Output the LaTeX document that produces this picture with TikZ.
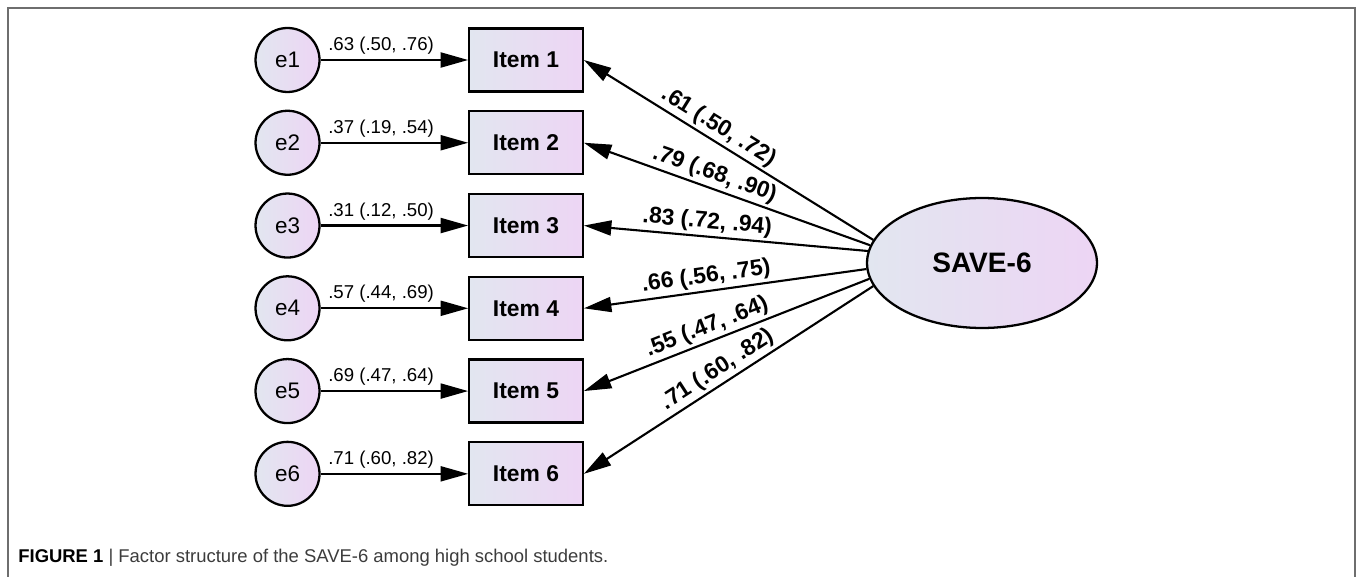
\documentclass[tikz,border=0pt]{standalone}
\usepackage{fontspec}
\setmainfont{Liberation Sans}
\usetikzlibrary{positioning,shapes.geometric,arrows.meta}
\definecolor{fillleft}{RGB}{226,230,240}
\definecolor{fillright}{RGB}{237,213,244}
\definecolor{framegray}{RGB}{110,110,110}
\definecolor{captext}{RGB}{60,60,60}
\tikzset{
	itembox/.style={draw, line width=1.3pt, minimum width=2.27cm, minimum height=1.26cm, left color=fillleft, right color=fillright, font=\fontsize{13}{15}\selectfont\bfseries},
	errnode/.style={draw, circle, line width=1.3pt, minimum size=1.28cm, inner sep=0pt, left color=fillleft, right color=fillright, font=\fontsize{12.8}{15}\selectfont},
	latent/.style={draw, ellipse, line width=1.3pt, minimum width=4.6cm, minimum height=2.6cm, left color=fillleft, right color=fillright, font=\fontsize{16}{18}\selectfont\bfseries},
	pth/.style={-{Triangle[length=0.55cm,width=0.3cm]}, line width=1.2pt},
	wlab/.style={above, pos=0.41, inner sep=2.5pt, font=\fontsize{10.6}{12}\selectfont},
	llab/.style={above, sloped, inner sep=1.5pt, font=\fontsize{13}{15}\selectfont\bfseries},
}
\begin{document}
\begin{tikzpicture}[x=0.02cm, y=-0.02cm]
		\useasboundingbox (0,0) rectangle (1357,577) ;
		% Frame
		\draw[framegray, line width=1.2pt] (8,600) -- (8,8) -- (1355,8) -- (1355,600) ;
		% Items
		\node[itembox] (Item1) at (526,60) {Item 1} ;
		\node[itembox, below=0.35cm of Item1] (Item2) {Item 2} ;
		\node[itembox, below=0.35cm of Item2] (Item3) {Item 3} ;
		\node[itembox, below=0.35cm of Item3] (Item4) {Item 4} ;
		\node[itembox, below=0.35cm of Item4] (Item5) {Item 5} ;
		\node[itembox, below=0.35cm of Item5] (Item6) {Item 6} ;
		% Errors
		\node[errnode, left=2.95cm of Item1] (e1) {e1} ;
		\node[errnode, left=2.95cm of Item2] (e2) {e2} ;
		\node[errnode, left=2.95cm of Item3] (e3) {e3} ;
		\node[errnode, left=2.95cm of Item4] (e4) {e4} ;
		\node[errnode, left=2.95cm of Item5] (e5) {e5} ;
		\node[errnode, left=2.95cm of Item6] (e6) {e6} ;
		% Factor
		\node[latent] (Save) at (982,263) {SAVE-6} ;
		% Error paths
		\draw[pth] (e1) -- node[wlab] {.63 (.50, .76)} (Item1) ;
		\draw[pth] (e2) -- node[wlab] {.37 (.19, .54)} (Item2) ;
		\draw[pth] (e3) -- node[wlab] {.31 (.12, .50)} (Item3) ;
		\draw[pth] (e4) -- node[wlab] {.57 (.44, .69)} (Item4) ;
		\draw[pth] (e5) -- node[wlab] {.69 (.47, .64)} (Item5) ;
		\draw[pth] (e6) -- node[wlab] {.71 (.60, .82)} (Item6) ;
		% Loadings
		\draw[pth] (Save.168.7) -- node[llab, pos=0.56] {.61 (.50, .72)} (Item1.east) ;
		\draw[pth] (Save.171) -- node[llab, pos=0.56] {.79 (.68, .90)} (Item2.east) ;
		\draw[pth] (Save.174.5) -- node[llab, pos=0.57] {.83 (.72, .94)} (Item3.east) ;
		\draw[pth] (Save.183.4) -- node[llab, pos=0.56] {.66 (.56, .75)} (Item4.east) ;
		\draw[pth] (Save.188.4) -- node[llab, pos=0.55] {.55 (.47, .64)} (Item5.east) ;
		\draw[pth] (Save.192.4) -- node[llab, pos=0.51] {.71 (.60, .82)} (Item6.east) ;
		% Caption
		\node[anchor=base west, inner sep=0pt, font=\fontsize{10.5}{12}\selectfont, text=captext] (Caption) at (18,563) {\textcolor{black}{\textbf{FIGURE 1}} | Factor structure of the SAVE-6 among high school students.} ;
	\end{tikzpicture}
\end{document}
